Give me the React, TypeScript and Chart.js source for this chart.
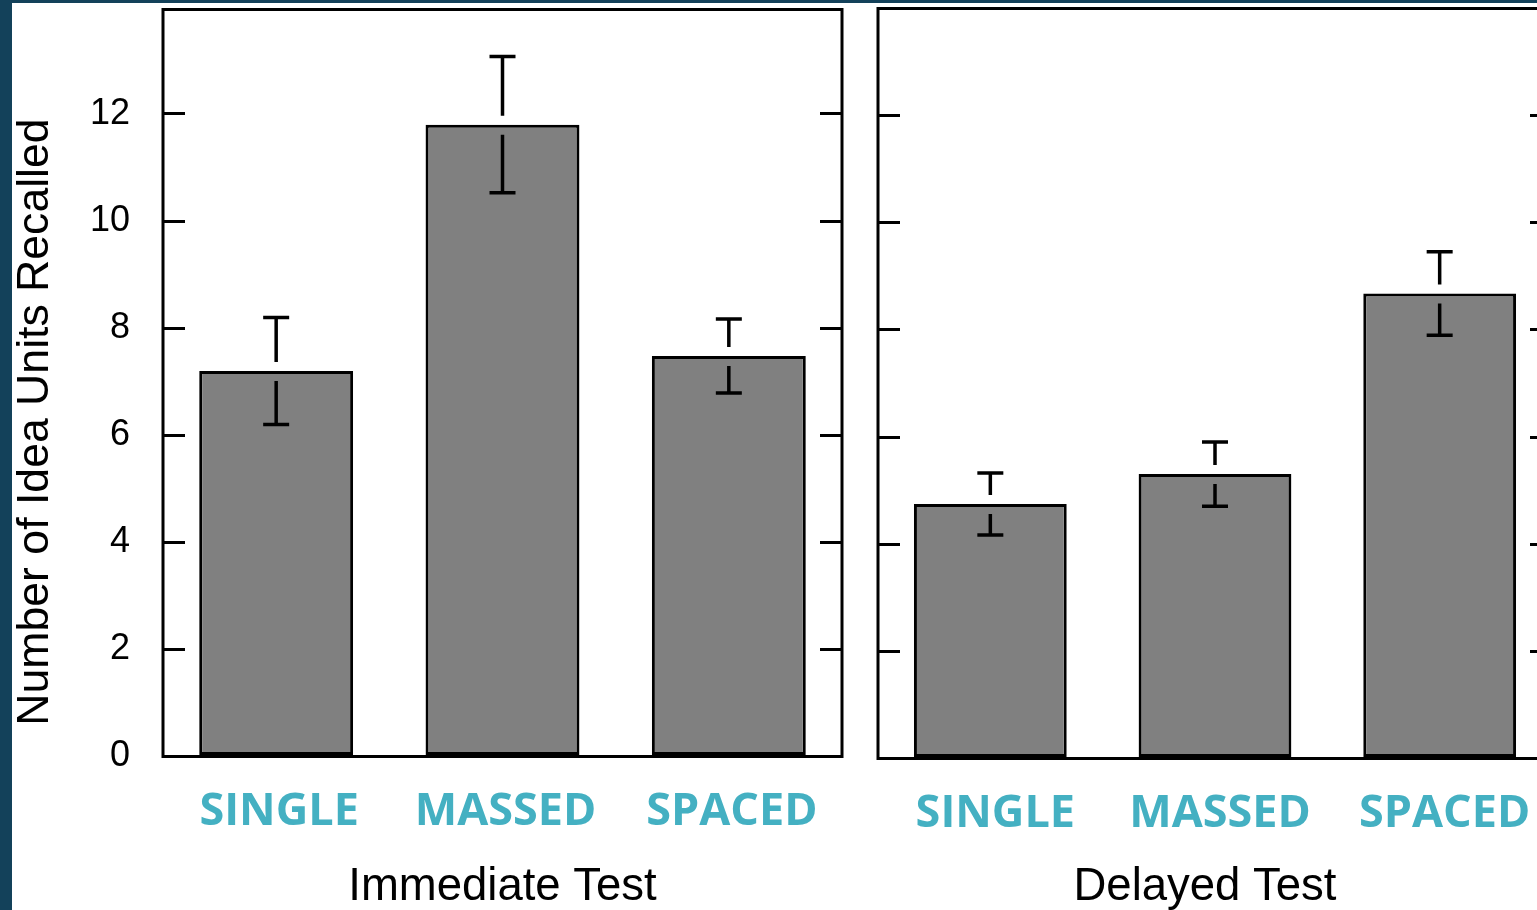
import React, { useEffect, useRef } from 'react';
import { Chart, registerables } from 'chart.js';

Chart.register(...registerables);

const categories = ['SINGLE', 'MASSED', 'SPACED'];
const immediateValues = [7.2, 11.8, 7.48];
const immediateErrors = [1.0, 1.27, 0.69];
const delayedValues = [4.75, 5.31, 8.68];
const delayedErrors = [0.58, 0.6, 0.78];
const yTickValues = [0, 2, 4, 6, 8, 10, 12];
const panelTitles = ['Immediate Test', 'Delayed Test'];
const yAxisTitle = 'Number of Idea Units Recalled';

const SANS = '"Liberation Sans", Arial, Helvetica, sans-serif';
const LABEL_FONT = '"Open Sans", "Noto Sans", sans-serif';
const TEAL = '#44B0C2';
const NAVY = '#13415A';

const framePlugin = {
  id: 'frame',
  afterDatasetsDraw(chart: any) {
    const { ctx, chartArea } = chart;
    ctx.save();
    ctx.strokeStyle = '#000';
    ctx.lineWidth = 3;
    ctx.strokeRect(chartArea.left, chartArea.top, chartArea.right - chartArea.left, chartArea.bottom - chartArea.top);
    ctx.restore();
  },
};

const errorBarPlugin = {
  id: 'errorBars',
  afterDatasetsDraw(chart: any) {
    const { ctx } = chart;
    const yScale = chart.scales.y;
    chart.data.datasets.forEach((ds: any, di: number) => {
      const meta = chart.getDatasetMeta(di);
      const errs: number[] = ds.errors || [];
      meta.data.forEach((bar: any, i: number) => {
        const v = ds.data[i];
        const e = errs[i];
        if (e == null) return;
        const x = bar.x;
        const top = yScale.getPixelForValue(v + e);
        const bot = yScale.getPixelForValue(v - e);
        const barTop = bar.y;
        const cap = 13;
        ctx.save();
        ctx.strokeStyle = '#000';
        ctx.lineWidth = 3.5;
        ctx.lineCap = 'butt';
        ctx.beginPath();
        ctx.moveTo(x, top);
        ctx.lineTo(x, barTop - 9);
        ctx.moveTo(x, barTop + 10);
        ctx.lineTo(x, bot);
        ctx.moveTo(x - cap, top);
        ctx.lineTo(x + cap, top);
        ctx.moveTo(x - cap, bot);
        ctx.lineTo(x + cap, bot);
        ctx.stroke();
        ctx.restore();
      });
    });
  },
};

// shift where axis titles are centred, after the scales are configured
function titleShiftPlugin(yTitleCenter: number | null, xTitleShift: number) {
  return {
    id: 'titleShift',
    afterLayout(chart: any) {
      const y = chart.scales.y;
      if (yTitleCenter != null && y) {
        y.bottom = 2 * yTitleCenter - y.top;
      }
      const x = chart.scales.x;
      if (x && xTitleShift) {
        x.right = x.right + 2 * xTitleShift;
      }
    },
  };
}

function tickBuilder(scale: any) {
  scale.ticks = yTickValues.map((v) => ({ value: v }));
}

function makeConfig(opts: {
  values: number[];
  errors: number[];
  title: string;
  yMax: number;
  showYLabels: boolean;
  padding: { left: number; right: number; top: number; bottom: number };
  leftWidth: number;
  xHeight: number;
  yTitleCenter: number | null;
  xTitleShift: number;
  labelOffset: number;
}) {
  const tickGrid = {
    display: true,
    drawOnChartArea: false,
    drawTicks: true,
    tickLength: -22,
    tickWidth: 3,
    tickColor: '#000',
    lineWidth: 3,
    color: '#000',
  };
  const zeroPad = (s: any) => {
    s.paddingTop = 0;
    s.paddingBottom = 0;
    s.paddingLeft = 0;
    s.paddingRight = 0;
  };
  return {
    type: 'bar' as const,
    data: {
      labels: categories,
      datasets: [
        {
          data: opts.values,
          errors: opts.errors,
          backgroundColor: '#808080',
          borderColor: '#000',
          borderWidth: 3,
          borderSkipped: false,
          barPercentage: 0.68,
          categoryPercentage: 1,
          yAxisID: 'y',
        },
      ],
    },
    options: {
      responsive: false,
      animation: false,
      devicePixelRatio: 1,
      events: [],
      layout: { padding: opts.padding },
      plugins: { legend: { display: false }, tooltip: { enabled: false } },
      scales: {
        x: {
          type: 'category',
          afterFit: (s: any) => {
            s.height = opts.xHeight;
            zeroPad(s);
          },
          grid: { display: false },
          border: { display: false },
          ticks: {
            autoSkip: false,
            maxRotation: 0,
            minRotation: 0,
            padding: 21,
            labelOffset: opts.labelOffset,
            color: TEAL,
            font: { family: LABEL_FONT, size: 45, weight: '700' },
          },
          title: {
            display: true,
            text: opts.title,
            color: '#000',
            font: { family: SANS, size: 45.5, lineHeight: 1 },
            padding: { top: 0, bottom: 0 },
          },
        },
        y: {
          type: 'linear',
          position: 'left',
          min: 0,
          max: opts.yMax,
          afterBuildTicks: tickBuilder,
          afterFit: (s: any) => {
            s.width = opts.leftWidth;
            zeroPad(s);
          },
          border: { display: false },
          grid: tickGrid,
          ticks: {
            display: opts.showYLabels,
            padding: 55,
            color: '#000',
            font: { family: SANS, size: 36 },
          },
          title: {
            display: opts.showYLabels,
            text: yAxisTitle,
            color: '#000',
            font: { family: SANS, size: 44.6, lineHeight: 1 },
            padding: { top: 13, bottom: 0 },
          },
        },
        y2: {
          type: 'linear',
          position: 'right',
          min: 0,
          max: opts.yMax,
          afterBuildTicks: tickBuilder,
          afterFit: (s: any) => {
            s.width = 0;
            zeroPad(s);
          },
          border: { display: false },
          grid: tickGrid,
          ticks: { display: false },
        },
      },
    },
    plugins: [framePlugin, errorBarPlugin, titleShiftPlugin(opts.yTitleCenter, opts.xTitleShift)],
  };
}

function Panel(props: { left: number; width: number; config: any }) {
  const ref = useRef<HTMLCanvasElement | null>(null);
  useEffect(() => {
    if (!ref.current) return;
    const chart = new Chart(ref.current, props.config);
    return () => chart.destroy();
  }, []);
  return (
    <canvas
      ref={ref}
      width={props.width}
      height={910}
      style={{ position: 'absolute', left: props.left, top: 0, width: props.width, height: 910 }}
    />
  );
}

export default function App() {
  const leftConfig = makeConfig({
    values: immediateValues,
    errors: immediateErrors,
    title: panelTitles[0],
    yMax: 13.95,
    showYLabels: true,
    padding: { left: 0, right: 18, top: 9.5, bottom: 0 },
    leftWidth: 163,
    xHeight: 153.5,
    yTitleCenter: 422,
    xTitleShift: 0,
    labelOffset: 3,
  });
  const rightConfig = makeConfig({
    values: delayedValues,
    errors: delayedErrors,
    title: panelTitles[1],
    yMax: 14.0,
    showYLabels: false,
    padding: { left: 18, right: 28, top: 8.5, bottom: 0 },
    leftWidth: 0,
    xHeight: 151.5,
    yTitleCenter: null,
    xTitleShift: -10,
    labelOffset: 5,
  });
  return (
    <div
      style={{
        position: 'fixed',
        left: 0,
        top: 0,
        width: 1537,
        height: 910,
        overflow: 'hidden',
        background: '#fff',
      }}
    >
      <Panel left={0} width={860} config={leftConfig} />
      <Panel left={860} width={720} config={rightConfig} />
      <div style={{ position: 'absolute', left: 0, top: 0, width: 12, height: 910, background: NAVY }} />
      <div style={{ position: 'absolute', left: 0, top: 0, width: 1537, height: 3, background: NAVY }} />
    </div>
  );
}
